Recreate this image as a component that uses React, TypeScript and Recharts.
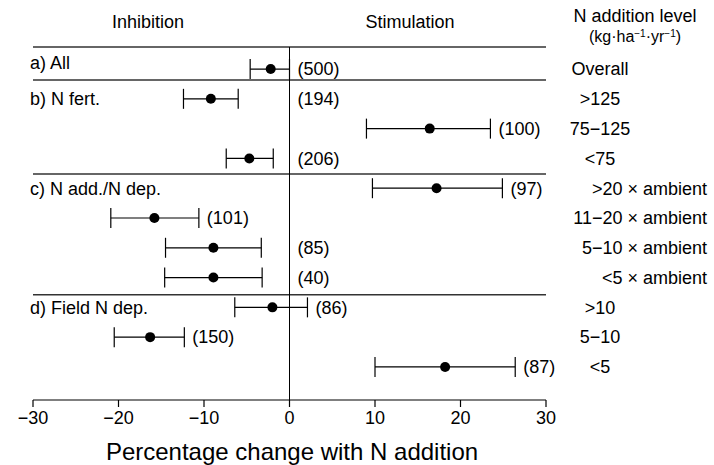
import React from 'react';
import { ScatterChart, Scatter, XAxis, YAxis, ErrorBar, ReferenceLine } from 'recharts';

// one row per N addition level, top to bottom
const levels = [
  'Overall',
  '>125', '75−125', '<75',
  '>20 × ambient', '11−20 × ambient', '5−10 × ambient', '<5 × ambient',
  '>10', '5−10', '<5',
];
const means = [-2.2, -9.2, 16.4, -4.7, 17.2, -15.8, -8.9, -8.9, -2.0, -16.3, 18.2];
const lower = [-4.6, -12.4, 9.0, -7.4, 9.7, -20.9, -14.5, -14.6, -6.4, -20.5, 10.0];
const upper = [0.0, -6.0, 23.5, -1.9, 24.9, -10.6, -3.3, -3.2, 2.1, -12.3, 26.4];
const counts = [500, 194, 100, 206, 97, 101, 85, 40, 86, 150, 87];
// where the (n) label sits: next to the zero line or after the CI
const countAt = ['axis', 'axis', 'end', 'axis', 'end', 'end', 'axis', 'axis', 'end', 'end', 'end'];

const groups = ['a) All', 'b) N fert.', 'c) N add./N dep.', 'd) Field N dep.'];
const groupRow = [-0.2, 1, 4, 8];
const dividers = [0.37, 3.52, 7.58];

const xTicks = [-30, -20, -10, 0, 10, 20, 30];
const rowTicks = levels.map((_, i) => i);
const yDomain: [number, number] = [-0.74, 11.11];

const points = means.map((m, i) => ({ x: m, y: i, err: [m - lower[i], upper[i] - m] }));
const countPts = counts.map((n, i) => ({ x: countAt[i] === 'axis' ? 0 : upper[i], y: i, text: `(${n})` }));
const groupPts = groups.map((g, i) => ({ x: -30, y: groupRow[i], text: g }));

const FONT = '"Liberation Sans", Arial, Helvetica, sans-serif';

function LevelTick({ y, payload }: any) {
  const label = levels[payload.value] ?? '';
  const ambient = label.includes('ambient');
  return (
    <text x={ambient ? 707 : 600} y={y} dy="0.35em" textAnchor={ambient ? 'end' : 'middle'} fontSize={18} fill="#000">
      {label}
    </text>
  );
}

export default function App() {
  return (
    <div style={{ position: 'absolute', left: 0, top: 0, width: 714, height: 465, fontFamily: FONT, background: '#fff' }}>
      <ScatterChart width={714} height={465} margin={{ top: 47, right: 0, bottom: 0, left: 33 }}>
        <XAxis
          type="number"
          dataKey="x"
          domain={[-30, 30]}
          ticks={xTicks}
          height={65}
          tickSize={7}
          tickMargin={4}
          axisLine={{ stroke: '#000', strokeWidth: 1.2 }}
          tickLine={{ stroke: '#000', strokeWidth: 1.2 }}
          tick={{ fontSize: 18, fill: '#000' }}
          tickFormatter={(v: number) => String(v).replace('-', '−')}
        />
        <YAxis
          type="number"
          dataKey="y"
          orientation="right"
          reversed
          domain={yDomain}
          ticks={rowTicks}
          width={168}
          axisLine={false}
          tickLine={false}
          tick={<LevelTick />}
        />
        <ReferenceLine y={yDomain[0]} stroke="#333" strokeWidth={1.5} />
        {dividers.map((d) => (
          <ReferenceLine key={d} y={d} stroke="#333" strokeWidth={1.5} />
        ))}
        <ReferenceLine x={0} stroke="#000" strokeWidth={1} />
        <Scatter
          data={points}
          isAnimationActive={false}
          shape={(p: any) => <circle cx={p.cx} cy={p.cy} r={5} fill="#000" />}
        >
          <ErrorBar dataKey="err" direction="x" width={10} stroke="#000" strokeWidth={1.2} isAnimationActive={false} />
        </Scatter>
        <Scatter
          data={countPts}
          isAnimationActive={false}
          shape={(p: any) => (
            <text x={p.cx + 8} y={p.cy} dy="0.35em" fontSize={18} fill="#000">
              {p.payload.text}
            </text>
          )}
        />
        <Scatter
          data={groupPts}
          isAnimationActive={false}
          shape={(p: any) => (
            <text x={p.cx - 3} y={p.cy} dy="0.35em" fontSize={18} fill="#000">
              {p.payload.text}
            </text>
          )}
        />
      </ScatterChart>
      <svg width={714} height={465} style={{ position: 'absolute', left: 0, top: 0, pointerEvents: 'none' }}>
        <text x={148} y={28} textAnchor="middle" fontSize={18} fill="#000">Inhibition</text>
        <text x={410} y={28} textAnchor="middle" fontSize={18} fill="#000">Stimulation</text>
        <text x={635} y={22} textAnchor="middle" fontSize={18} fill="#000">N addition level</text>
        <text x={635} y={42} textAnchor="middle" fontSize={16} fill="#000">
          (kg·ha<tspan dy={-5} fontSize={10}>−1</tspan>
          <tspan dy={5}>·yr</tspan>
          <tspan dy={-5} fontSize={10}>−1</tspan>
          <tspan dy={5}>)</tspan>
        </text>
        <text x={292} y={460} textAnchor="middle" fontSize={24} fill="#000">Percentage change with N addition</text>
      </svg>
    </div>
  );
}
